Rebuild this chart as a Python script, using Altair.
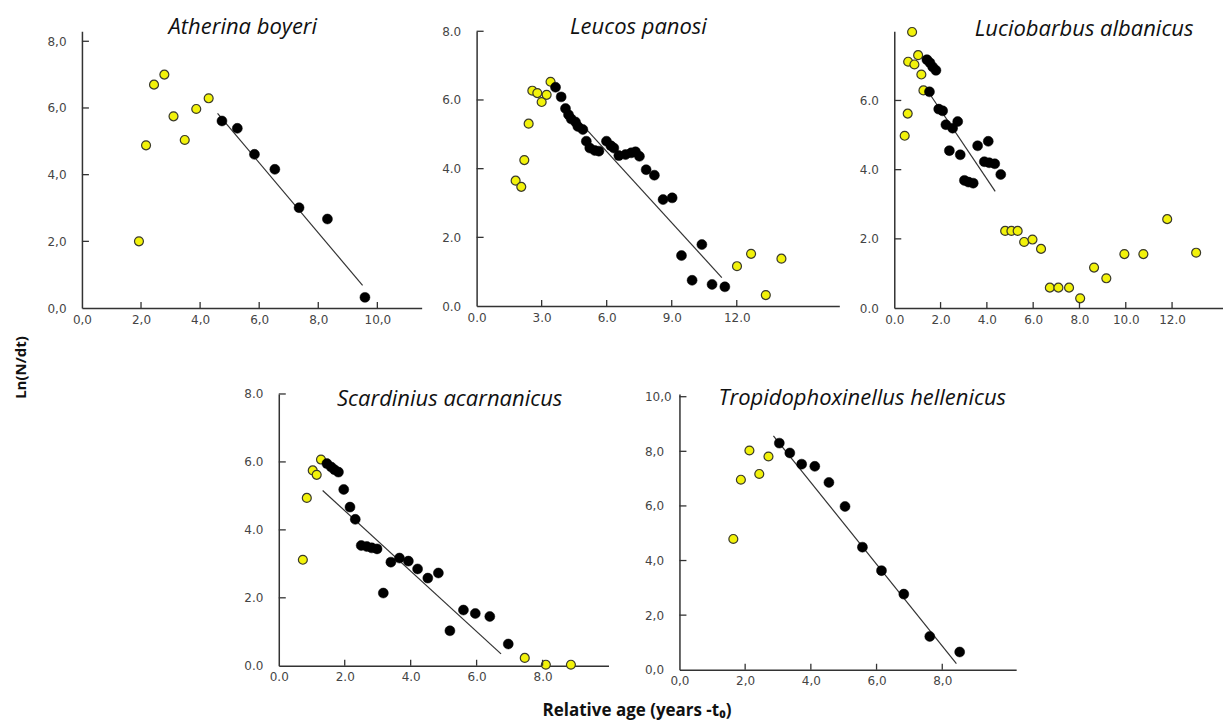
import altair as alt
import pandas as pd

# ---------------- data ----------------
# Atherina boyeri
ab_yx = [1.93, 2.17, 2.44, 2.79, 3.10, 3.48, 3.87, 4.29]
ab_yy = [2.00, 4.88, 6.70, 7.00, 5.75, 5.04, 5.97, 6.29]
ab_bx = [4.74, 5.26, 5.84, 6.53, 7.35, 8.31, 9.58]
ab_by = [5.61, 5.39, 4.61, 4.16, 3.01, 2.67, 0.32]
ab_lx = [4.59, 9.50]
ab_ly = [5.84, 0.68]

# Leucos panosi
lp_yx = [1.80, 2.06, 2.20, 2.40, 2.57, 2.80, 3.00, 3.23, 3.41, 12.01, 12.66, 13.34, 14.06]
lp_yy = [3.65, 3.47, 4.25, 5.31, 6.27, 6.20, 5.94, 6.15, 6.53, 1.16, 1.52, 0.32, 1.38]
lp_bx = [3.64, 3.90, 4.10, 4.24, 4.36, 4.56, 4.67, 4.90, 5.06, 5.22, 5.45, 5.64, 5.99, 6.19,
         6.33, 6.56, 6.87, 7.13, 7.33, 7.51, 7.82, 8.20, 8.60, 9.02, 9.45, 9.94, 10.39, 10.86, 11.45]
lp_by = [6.37, 6.09, 5.75, 5.57, 5.45, 5.36, 5.23, 5.14, 4.80, 4.60, 4.53, 4.51, 4.80, 4.67,
         4.60, 4.38, 4.41, 4.46, 4.49, 4.36, 3.97, 3.81, 3.10, 3.15, 1.47, 0.75, 1.79, 0.63, 0.56]
lp_lx = [4.75, 11.31]
lp_ly = [5.36, 0.83]

# Luciobarbus albanicus
la_yx = [0.45, 0.58, 0.77, 0.60, 0.87, 1.03, 1.17, 1.26, 4.79, 5.06, 5.33, 5.61, 5.97, 6.34,
         6.72, 7.09, 7.55, 8.03, 8.63, 9.16, 9.94, 10.76, 11.79, 13.04]
la_yy = [4.98, 5.62, 7.98, 7.12, 7.04, 7.31, 6.75, 6.29, 2.23, 2.23, 2.23, 1.91, 1.98, 1.71,
         0.59, 0.59, 0.59, 0.28, 1.17, 0.86, 1.56, 1.56, 2.57, 1.60]
la_bx = [1.41, 1.54, 1.66, 1.80, 1.52, 1.92, 2.09, 2.23, 2.52, 2.74, 2.38, 2.85, 3.03, 3.21,
         3.41, 3.60, 4.06, 3.89, 4.10, 4.34, 4.60]
la_by = [7.18, 7.09, 6.97, 6.87, 6.25, 5.75, 5.70, 5.30, 5.20, 5.39, 4.55, 4.43, 3.69, 3.64,
         3.61, 4.69, 4.82, 4.23, 4.20, 4.17, 3.86]
la_lx = [1.59, 4.36]
la_ly = [6.13, 3.37]

# Scardinius acarnanicus
sa_yx = [0.73, 0.85, 1.03, 1.15, 1.28, 7.46, 8.10, 8.86]
sa_yy = [3.12, 4.94, 5.75, 5.62, 6.07, 0.23, 0.03, 0.03]
sa_bx = [1.46, 1.59, 1.69, 1.81, 1.97, 2.16, 2.32, 2.50, 2.67, 2.82, 2.98, 3.17, 3.40, 3.66,
         3.93, 4.21, 4.52, 4.84, 5.19, 5.60, 5.96, 6.40, 6.96]
sa_by = [5.95, 5.85, 5.77, 5.70, 5.19, 4.67, 4.31, 3.54, 3.51, 3.47, 3.44, 2.14, 3.05, 3.17,
         3.08, 2.85, 2.58, 2.73, 1.03, 1.64, 1.54, 1.45, 0.64]
sa_lx = [1.33, 6.74]
sa_ly = [5.16, 0.35]

# Tropidophoxinellus hellenicus
th_yx = [1.64, 1.87, 2.13, 2.43, 2.71]
th_yy = [4.79, 6.96, 8.03, 7.17, 7.81]
th_bx = [3.04, 3.36, 3.72, 4.12, 4.55, 5.04, 5.57, 6.15, 6.83, 7.62, 8.53]
th_by = [8.30, 7.94, 7.53, 7.45, 6.86, 5.98, 4.49, 3.63, 2.77, 1.22, 0.65]
th_lx = [2.86, 8.43]
th_ly = [8.57, 0.22]

# tick values
ab_xt = [0, 2, 4, 6, 8, 10]
lp_xt = [0, 3, 6, 9, 12]
la_xt = [0, 2, 4, 6, 8, 10, 12]
sa_xt = [0, 2, 4, 6, 8]
th_xt = [0, 2, 4, 6, 8]
yt8 = [0, 2, 4, 6, 8]
la_yt = [0, 2, 4, 6]
th_yt = [0, 2, 4, 6, 8, 10]

TICK_FONT = "DejaVu Sans"
TITLE_FONT = "Open Sans"
AX = "#333333"
YELLOW = "#f2f20a"


def panel(name, yx, yy, bx, by, lx, ly, xdom, ydom, xticks, yticks, w, h, comma, tx, ty):
    if comma:
        fmt = "replace(format(datum.value, '.1f'), '.', ',')"
    else:
        fmt = "format(datum.value, '.1f')"
    xs = alt.Scale(domain=xdom, nice=False, zero=False)
    ys = alt.Scale(domain=ydom, nice=False, zero=False)
    xax = alt.Axis(values=xticks, labelExpr=fmt, ticks=False, grid=False, title=None,
                   labelPadding=6, labelFont=TICK_FONT, labelFontSize=12, labelColor="#444",
                   domainColor=AX, domainWidth=1.5, labelFlush=False)
    yax = alt.Axis(values=yticks, labelExpr=fmt, ticks=False, grid=False, title=None,
                   labelAlign="left", labelPadding=35, labelFont=TICK_FONT, labelFontSize=12,
                   labelColor="#444", domainColor=AX, domainWidth=1.5, labelFlush=False)
    X = alt.X("x:Q", scale=xs, axis=xax)
    Y = alt.Y("y:Q", scale=ys, axis=yax)

    line = alt.Chart(pd.DataFrame({"x": lx, "y": ly})).mark_line(
        color="#333", strokeWidth=1.2).encode(x=X, y=Y)
    yel = alt.Chart(pd.DataFrame({"x": yx, "y": yy})).mark_point(
        shape="circle", filled=True, size=80, fill=YELLOW, stroke="#3a3a2a",
        strokeWidth=1.2, opacity=1).encode(x=X, y=Y)
    blk = alt.Chart(pd.DataFrame({"x": bx, "y": by})).mark_point(
        shape="circle", filled=True, size=100, fill="#000", stroke="#000",
        strokeWidth=0.5, opacity=1).encode(x=X, y=Y)
    xtk = alt.Chart(pd.DataFrame({"x": [v for v in xticks if v != 0]})).mark_rule(
        color=AX, strokeWidth=1.3).encode(x=X, y=alt.value(h), y2=alt.value(h - 6))
    ytk = alt.Chart(pd.DataFrame({"y": [v for v in yticks if v != 0]})).mark_rule(
        color=AX, strokeWidth=1.3).encode(y=Y, x=alt.value(0), x2=alt.value(7))
    ttl = alt.Chart(pd.DataFrame({"t": [name]})).mark_text(
        font=TITLE_FONT, fontStyle="italic", fontSize=22, align="center",
        baseline="middle", color="#111").encode(text="t:N", x=alt.value(tx), y=alt.value(ty))
    return alt.layer(line, yel, blk, xtk, ytk, ttl).properties(width=w, height=h)


p1 = panel("Atherina boyeri", ab_yx, ab_yy, ab_bx, ab_by, ab_lx, ab_ly,
           [0, 11.5], [0, 8.3], ab_xt, yt8, 340, 277, True, 161, -4)
p2 = panel("Leucos panosi", lp_yx, lp_yy, lp_bx, lp_by, lp_lx, lp_ly,
           [0, 16.73], [0, 8], lp_xt, yt8, 363, 275, False, 162, -4)
p3 = panel("Luciobarbus albanicus", la_yx, la_yy, la_bx, la_by, la_lx, la_ly,
           [0, 14.2], [0, 8], la_xt, la_yt, 329, 277, False, 190, -2)
p4 = panel("Scardinius acarnanicus", sa_yx, sa_yy, sa_bx, sa_by, sa_lx, sa_ly,
           [0, 10], [0, 8], sa_xt, yt8, 330, 272, False, 171, 5)
p5 = panel("Tropidophoxinellus hellenicus", th_yx, th_yy, th_bx, th_by, th_lx, th_ly,
           [0, 10.25], [0, 10.1], th_xt, th_yt, 337, 276, True, 183, 4)

spacer = alt.Chart(pd.DataFrame({"x": [0]})).mark_point(opacity=0).encode(
    x=alt.X("x:Q", axis=None)).properties(width=126, height=10)

row1 = alt.hconcat(p1, p2, p3, spacing=20)
row2 = alt.hconcat(spacer, p4, p5, spacing=36,
                   title=alt.TitleParams("Relative age (years -t\u2080)", orient="bottom",
                                         anchor="middle", font=TITLE_FONT, fontWeight="bold",
                                         fontSize=17, color="#111", offset=16, dx=88))
chart = alt.vconcat(row1, row2, spacing=62,
                    title=alt.TitleParams("Ln(N/dt)", orient="left", anchor="middle",
                                          font=TITLE_FONT, fontWeight="bold", fontSize=15,
                                          color="#111", offset=18)).properties(
    padding={"left": 6, "top": 8, "right": 0, "bottom": 4}
).configure_view(strokeWidth=0, strokeOpacity=0)

chart.save("out.html", embed_options={"renderer": "svg", "actions": False})
